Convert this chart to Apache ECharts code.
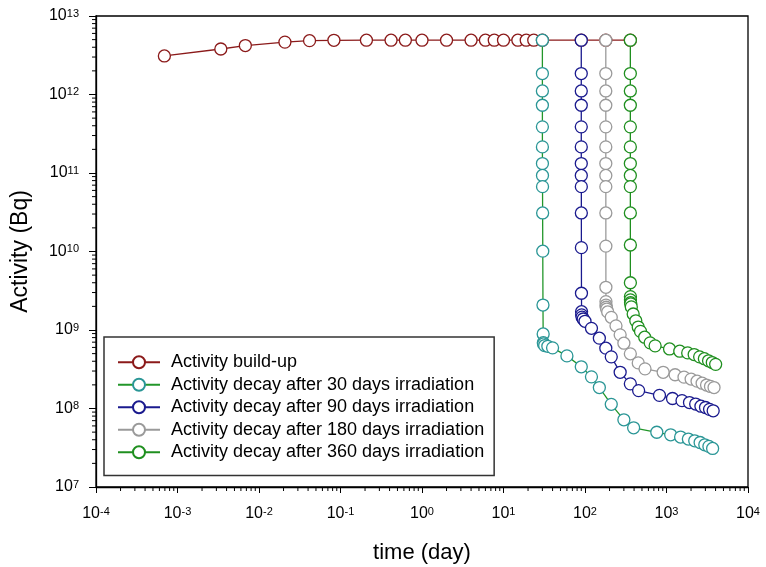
<!DOCTYPE html>
<html><head><meta charset="utf-8">
<script src="https://cdn.jsdelivr.net/npm/echarts@6/dist/echarts.min.js"></script>
<style>html,body{margin:0;padding:0;background:#fff}#c{width:766px;height:567px}</style>
</head><body><div id="c"></div>
<script>
// ---- data ----
const xMinExp = -4, xMaxExp = 4;
const yMinExp = 7, yMaxExp = 13;

const seriesNames = [
  'Activity build-up',
  'Activity decay after 30 days irradiation',
  'Activity decay after 90 days irradiation',
  'Activity decay after 180 days irradiation',
  'Activity decay after 360 days irradiation'
];

const buildupTime = [0.00069, 0.0034, 0.0068, 0.0208, 0.0417, 0.083, 0.208, 0.417, 0.625, 1, 2, 4, 6, 7.7, 10, 15, 19, 23.5, 30, 90, 180, 360];
const buildupActivity = [3.1e12, 3.8e12, 4.2e12, 4.65e12, 4.85e12, 4.9e12, 4.92e12, 4.92e12, 4.92e12, 4.92e12, 4.92e12, 4.92e12, 4.92e12, 4.92e12, 4.92e12, 4.92e12, 4.92e12, 4.92e12, 4.92e12, 4.92e12, 4.92e12, 4.92e12];

const decay30Time = [30, 30.0007, 30.0035, 30.007, 30.014, 30.021, 30.042, 30.083, 30.125, 30.21, 30.33, 30.5, 30.67, 30.8, 31, 32, 35, 40, 60, 90, 120, 150, 210, 300, 395, 760, 1125, 1490, 1855, 2220, 2585, 2950, 3315, 3680];
const decay30Activity = [4.92e12, 1.85e12, 1.11e12, 7.3e11, 3.87e11, 2.15e11, 1.32e11, 9.3e10, 6.7e10, 3.1e10, 1.01e10, 2.08e9, 8.9e8, 6.9e8, 6.65e8, 6.34e8, 6.2e8, 5.92e8, 4.68e8, 3.4e8, 2.53e8, 1.85e8, 1.13e8, 7.18e7, 5.68e7, 4.98e7, 4.62e7, 4.33e7, 4.08e7, 3.88e7, 3.69e7, 3.45e7, 3.29e7, 3.1e7];

const decay90Time = [90, 90.0007, 90.0035, 90.007, 90.014, 90.021, 90.042, 90.083, 90.125, 90.21, 90.33, 90.5, 90.8, 91, 92, 95, 100, 120, 150, 180, 210, 270, 360, 455, 820, 1185, 1550, 1915, 2280, 2645, 3010, 3375, 3740];
const decay90Activity = [4.92e12, 1.85e12, 1.11e12, 7.3e11, 3.87e11, 2.15e11, 1.32e11, 9.3e10, 6.7e10, 3.1e10, 1.12e10, 2.94e9, 1.71e9, 1.56e9, 1.46e9, 1.38e9, 1.29e9, 1.05e9, 7.87e8, 5.87e8, 4.55e8, 2.89e8, 2.06e8, 1.69e8, 1.47e8, 1.34e8, 1.26e8, 1.19e8, 1.14e8, 1.07e8, 1.03e8, 9.75e7, 9.35e7];

const decay180Time = [180, 180.0007, 180.0035, 180.007, 180.014, 180.021, 180.042, 180.083, 180.125, 180.21, 180.33, 180.5, 180.8, 181, 182, 185, 190, 210, 240, 270, 300, 360, 450, 545, 910, 1275, 1640, 2005, 2370, 2735, 3100, 3465, 3830];
const decay180Activity = [4.92e12, 1.85e12, 1.11e12, 7.3e11, 3.87e11, 2.15e11, 1.32e11, 9.3e10, 6.7e10, 3.1e10, 1.17e10, 3.5e9, 2.3e9, 2.08e9, 1.95e9, 1.85e9, 1.7e9, 1.45e9, 1.13e9, 8.67e8, 6.79e8, 4.97e8, 3.81e8, 3.2e8, 2.89e8, 2.69e8, 2.51e8, 2.37e8, 2.23e8, 2.1e8, 1.99e8, 1.91e8, 1.85e8];

const decay360Time = [360, 360.0007, 360.0035, 360.007, 360.014, 360.021, 360.042, 360.083, 360.125, 360.21, 360.33, 360.5, 360.8, 361, 362, 365, 370, 390, 420, 450, 480, 540, 630, 725, 1090, 1455, 1820, 2185, 2550, 2915, 3280, 3645, 4010];
const decay360Activity = [4.92e12, 1.85e12, 1.11e12, 7.3e11, 3.87e11, 2.15e11, 1.32e11, 9.3e10, 6.7e10, 3.1e10, 1.21e10, 4.0e9, 2.66e9, 2.42e9, 2.23e9, 2.15e9, 1.97e9, 1.6e9, 1.31e9, 1.09e9, 9.6e8, 8.1e8, 6.86e8, 6.28e8, 5.74e8, 5.37e8, 5.11e8, 4.87e8, 4.55e8, 4.31e8, 4.05e8, 3.85e8, 3.65e8];

// ---- styling ----
const lineColors   = ['#8b1a1a', '#22962a', '#1a1a8e', '#9a9a9a', '#1f8f1f'];
const markerColors = ['#8b1a1a', '#2a9696', '#1a1a8e', '#9a9a9a', '#1f8f1f'];
const FONT = '"Liberation Sans", Arial, sans-serif';

function zip(xs, ys) { return xs.map((x, i) => [x, ys[i]]); }
const allData = [
  zip(buildupTime, buildupActivity),
  zip(decay30Time, decay30Activity),
  zip(decay90Time, decay90Activity),
  zip(decay180Time, decay180Activity),
  zip(decay360Time, decay360Activity)
];

// minor tick positions (2..9 x 10^k)
function minorValues(lo, hi) {
  const out = [];
  for (let e = lo; e < hi; e++) for (let m = 2; m <= 9; m++) out.push(m * Math.pow(10, e));
  return out;
}
const xMin = Math.pow(10, xMinExp), xMax = Math.pow(10, xMaxExp);
const yMin = Math.pow(10, yMinExp), yMax = Math.pow(10, yMaxExp);

function supFormatter(v) {
  const e = Math.round(Math.log10(v));
  return '10{s|' + e + '}';
}

const lineSeries = allData.map((d, i) => ({
  name: seriesNames[i],
  type: 'line',
  data: d,
  z: i === 0 ? 2 : 3,
  symbol: 'circle',
  symbolSize: 12,
  showAllSymbol: true,
  animation: false,
  lineStyle: { color: lineColors[i], width: 1.3 },
  itemStyle: { color: '#ffffff', borderColor: markerColors[i], borderWidth: 1.3 },
  emphasis: { disabled: true }
}));

const xMinorSeries = {
  type: 'custom', silent: true, clip: false, animation: false, z: 5,
  data: minorValues(xMinExp, xMaxExp).map(v => [v, yMin]),
  renderItem: (params, api) => {
    const p = api.coord([api.value(0), api.value(1)]);
    return { type: 'line', shape: { x1: p[0], y1: p[1], x2: p[0], y2: p[1] + 4 }, style: { stroke: '#000', lineWidth: 1 } };
  }
};
const yMinorSeries = {
  type: 'custom', silent: true, clip: false, animation: false, z: 5,
  data: minorValues(yMinExp, yMaxExp).map(v => [xMin, v]),
  renderItem: (params, api) => {
    const p = api.coord([api.value(0), api.value(1)]);
    return { type: 'line', shape: { x1: p[0], y1: p[1], x2: p[0] - 4, y2: p[1] }, style: { stroke: '#000', lineWidth: 1 } };
  }
};

const chart = echarts.init(document.getElementById('c'), null, { renderer: 'canvas' });
chart.setOption({
  backgroundColor: '#ffffff',
  animation: false,
  textStyle: { fontFamily: FONT },
  grid: { left: 96, right: 18, top: 16, bottom: 80, containLabel: false, outerBoundsMode: 'none',
          show: true, borderColor: '#000', borderWidth: 1.3, backgroundColor: 'transparent' },
  xAxis: {
    type: 'log', logBase: 10, min: xMin, max: xMax, interval: 1,
    name: 'time (day)', nameLocation: 'middle', nameGap: 55,
    nameTextStyle: { fontFamily: FONT, fontSize: 22, color: '#000' },
    axisLine: { show: true, lineStyle: { color: '#000', width: 1.3 } },
    axisTick: { show: true, inside: false, length: 6, lineStyle: { color: '#000', width: 1 } },
    splitLine: { show: false },
    axisLabel: { formatter: supFormatter, margin: 19, fontFamily: FONT, fontSize: 16, color: '#000',
      rich: { s: { fontFamily: FONT, fontSize: 11, verticalAlign: 'top', color: '#000' } } }
  },
  yAxis: {
    type: 'log', logBase: 10, min: yMin, max: yMax, interval: 1,
    name: 'Activity (Bq)', nameLocation: 'middle', nameGap: 64,
    nameTextStyle: { fontFamily: FONT, fontSize: 23, color: '#000' },
    axisLine: { show: true, lineStyle: { color: '#000', width: 1.3 } },
    axisTick: { show: true, inside: false, length: 7, lineStyle: { color: '#000', width: 1 } },
    splitLine: { show: false },
    axisLabel: { formatter: supFormatter, margin: 17, fontFamily: FONT, fontSize: 16, color: '#000',
      rich: { s: { fontFamily: FONT, fontSize: 11, verticalAlign: 'top', color: '#000' } } }
  },
  legend: {
    data: seriesNames,
    orient: 'vertical',
    left: 104, top: 337,
    padding: [14, 10, 12, 13],
    itemGap: 0,
    itemWidth: 42, itemHeight: 15,
    backgroundColor: '#fff',
    borderColor: '#333', borderWidth: 1.5,
    selectedMode: false,
    textStyle: { fontFamily: FONT, fontSize: 18, color: '#000', lineHeight: 22.5, padding: [0, 0, 0, 6] }
  },
  series: [...lineSeries, xMinorSeries, yMinorSeries]
});
</script>
</body></html>
